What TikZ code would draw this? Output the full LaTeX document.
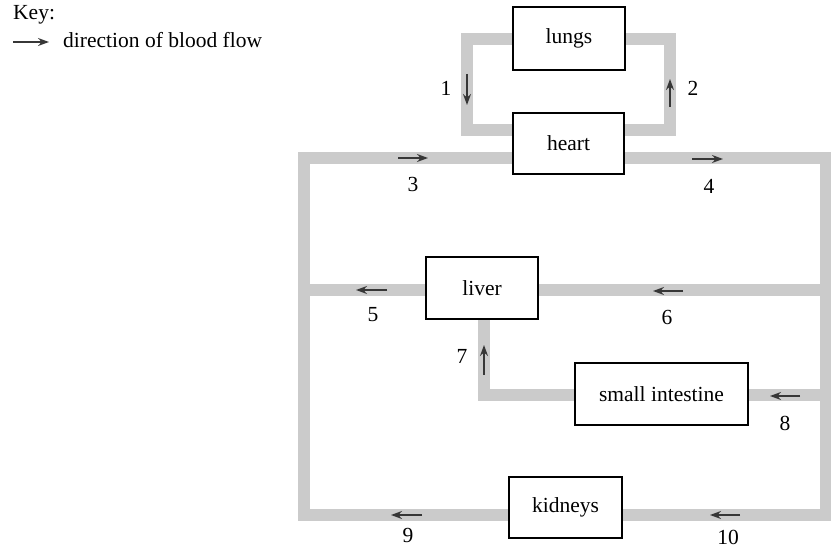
\documentclass[tikz,border=0pt]{standalone}
\usepackage{fontspec}
\setmainfont{Liberation Serif}
\usetikzlibrary{arrows.meta,backgrounds}
\definecolor{bandgray}{RGB}{203,203,203}
\definecolor{arrowgray}{RGB}{55,55,55}
\begin{document}
\begin{tikzpicture}[x=1pt,y=-1pt,
  font=\fontsize{21.5}{25}\selectfont,
  organ/.style={draw=black, line width=1.5pt, fill=white, inner sep=0pt},
  band/.style={draw=bandgray, line width=12.5pt, line join=miter},
  flow/.style={draw=arrowgray, line width=1.4pt, -{Stealth[length=11pt,width=8pt]}},
  num/.style={inner sep=0pt}]
\useasboundingbox (0,0) rectangle (831,548);

% organs
\node[organ, minimum width=112pt, minimum height=63pt] (lungs) at (569,38.5) {lungs};
\node[organ, minimum width=111pt, minimum height=61pt] (heart) at (568.5,143.5) {heart};
\node[organ, minimum width=112pt, minimum height=62pt] (liver) at (482,288) {liver};
\node[organ, minimum width=173pt, minimum height=62pt] (smallint) at (661.5,394) {small intestine};
\node[organ, minimum width=113pt, minimum height=61pt] (kidneys) at (565.5,507.5) {kidneys};

% corner coordinates of the vessels
\coordinate (P1) at (467,39);
\coordinate (P2) at (467,130);
\coordinate (P3) at (670,39);
\coordinate (P4) at (670,130);
\coordinate (TL) at (304,158);
\coordinate (TR) at (826,158);
\coordinate (BL) at (304,515);
\coordinate (BR) at (826,515);
\coordinate (LL) at (304,290);
\coordinate (LR) at (826,290);
\coordinate (J) at (484,395);
\coordinate (SR) at (826,395);

\begin{scope}[on background layer]
  \draw[band] (lungs.west |- P1) -- (P1) -- (P2) -- (heart.west |- P2);
  \draw[band] (heart.east |- P4) -- (P4) -- (P3) -- (lungs.east |- P3);
  \draw[band] (heart.west |- TL) -- (TL) -- (BL) -- (kidneys.west |- BL);
  \draw[band] (heart.east |- TR) -- (TR) -- (BR) -- (kidneys.east |- BR);
  \draw[band] (LL) -- (liver.west |- LL);
  \draw[band] (liver.east |- LR) -- (LR);
  \draw[band] (liver.south -| J) -- (J) -- (smallint.west |- J);
  \draw[band] (smallint.east |- SR) -- (SR);
\end{scope}

% flow arrows
\draw[flow] (467,74) -- (467,105);
\draw[flow] (670,107) -- (670,79);
\draw[flow] (398,158) -- (428,158);
\draw[flow] (692,159) -- (723,159);
\draw[flow] (387,290) -- (356,290);
\draw[flow] (683,291) -- (653,291);
\draw[flow] (484,375) -- (484,345);
\draw[flow] (800,396) -- (770,396);
\draw[flow] (422,515) -- (391,515);
\draw[flow] (740,515) -- (710,515);

% labels
\node[num] (n1) at (446,88) {1};
\node[num] (n2) at (693,88) {2};
\node[num] (n3) at (413,184) {3};
\node[num] (n4) at (709,186) {4};
\node[num] (n5) at (373,315) {5};
\node[num] (n6) at (667,317) {6};
\node[num] (n7) at (462,356) {7};
\node[num] (n8) at (785,423) {8};
\node[num] (n9) at (408,535) {9};
\node[num] (n10) at (728,537) {10};

% key
\node[inner sep=0pt, anchor=base west] (keyt) at (13,20) {Key:};
\coordinate (ka) at (13,42);
\coordinate (kb) at (49,42);
\draw[flow] (ka) -- (kb);
\node[inner sep=0pt, anchor=base west] (keyd) at (63,48) {direction of blood flow};
\end{tikzpicture}
\end{document}
